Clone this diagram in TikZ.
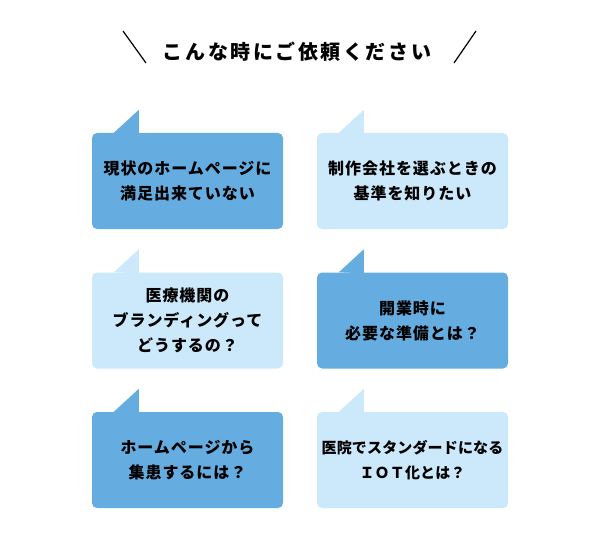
\documentclass[tikz,border=0pt]{standalone}
\usepackage{fontspec}
\usetikzlibrary{calc}
\newfontfamily\jpfont[LetterSpace=6]{Noto Sans CJK JP}
\newfontfamily\jpnarrow[LetterSpace=1]{Noto Sans CJK JP}
\newfontfamily\jptitle[LetterSpace=13]{Noto Sans CJK JP}
\definecolor{bubbledark}{RGB}{101,173,224}
\definecolor{bubblelight}{RGB}{204,233,251}

\begin{document}
\begin{tikzpicture}[x=1pt,y=1pt,
    bubble/.style={rounded corners=5pt,minimum width=191pt,minimum height=96pt,
      inner sep=0pt,align=center,font=\jpfont\bfseries\fontsize{16}{25}\selectfont},
    dark/.style={bubble,fill=bubbledark},
    light/.style={bubble,fill=bubblelight}]
  \useasboundingbox (0,0) rectangle (600,550);
  \node (title) at (297,498) {\jptitle\bfseries\fontsize{20}{24}\selectfont こんな時にご依頼ください};
  \draw[line width=1.2pt] (123,519) -- (146,487);
  \draw[line width=1.2pt] (476,519) -- (454,487);
  % bubbles
  \node[dark]  (q11) at (187.5,369) {現状のホームページに\\満足出来ていない};
  \node[light] (q12) at (412.5,369) {制作会社を選ぶときの\\基準を知りたい};
  \node[light] (q21) at (187.5,229.5) {医療機関の\\ブランディングって\\どうするの？};
  \node[dark]  (q22) at (412.5,229.5) {開業時に\\必要な準備とは？};
  \node[dark]  (q31) at (187.5,90) {ホームページから\\集患するには？};
  \node[light,font=\jpnarrow\bfseries\fontsize{15}{25}\selectfont] (q32) at (412.5,90) {医院でスタンダードになる\\ＩＯＴ化とは？};
  \foreach \q/\col in {q11/bubbledark,q12/bubblelight,q21/bubblelight,q22/bubbledark,q31/bubbledark,q32/bubblelight}
    \fill[\col] ($(\q.north west)+(22,0)$) -- ($(\q.north west)+(47,23)$) -- ($(\q.north west)+(47,-1)$) -- cycle;
\end{tikzpicture}
\end{document}
